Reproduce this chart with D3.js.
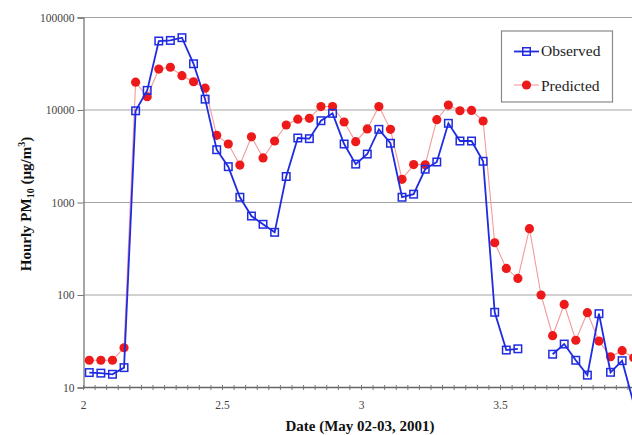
<!DOCTYPE html>
<html>
<head>
<meta charset="utf-8">
<script src="https://cdn.jsdelivr.net/npm/d3@7"></script>
<style>
    body { margin: 0; background: #fff; }
    svg text { font-family: "Liberation Serif", "Times New Roman", serif; }
</style>
</head>
<body>
<div id="chart"></div>
<script>
// Hourly samples, May 02-03 2001 (day value 2.0 = start of May 2)
const startDay = 2;
const hoursPerDay = 24;

const observed = [14.5, 14.3, 13.9, 16.4, 9800, 16300, 55700, 56500, 60500, 31600,
    13100, 3720, 2440, 1140, 714, 581, 476, 1910, 4980, 4900,
    7660, 9200, 4290, 2600, 3340, 6180, 4370, 1140, 1230, 2290,
    2740, 7180, 4620, 4620, 2790, 65, 25.4, 26.2, null, null,
    22.9, 29.5, 19.7, 13.6, 62.8, 14.6, 19.5, 6.7];

const predicted = [19.7, 19.7, 19.7, 26.9, 20000, 13900, 27700, 29000, 23500, 20200,
    17200, 5330, 4290, 2540, 5130, 3030, 4620, 6880, 7950, 8130,
    10900, 10900, 7420, 4540, 6240, 10900, 6180, 1780, 2570, 2560,
    7860, 11300, 9810, 9900, 7600, 367, 194, 151, 521, 100,
    36.3, 79, 32.4, 64.4, 31.8, 21.5, 25, 21];

const xTicks = [2, 2.5, 3, 3.5];
const yTicks = [10, 100, 1000, 10000, 100000];

const width = 632;
const height = 435;
const plot = { left: 83.5, top: 17.5, bottom: 387.5, right: 639.5 };
const serif = "'Liberation Serif', 'Times New Roman', serif";

const svg = d3.select("#chart")
    .append("svg")
    .attr("width", width)
    .attr("height", height);

const x = d3.scaleLinear().domain([2, 4]).range([plot.left, plot.right]);
const y = d3.scaleLog().domain([10, 100000]).range([plot.bottom, plot.top]);

const hourX = i => x(startDay + (i + 0.5) / hoursPerDay);

// Grid lines
svg.append("g")
    .selectAll("line")
    .data(yTicks.slice(1))
    .enter()
    .append("line")
    .attr("x1", plot.left)
    .attr("x2", width)
    .attr("y1", d => y(d))
    .attr("y2", d => y(d))
    .attr("stroke", "#a3a3a3")
    .attr("stroke-width", 1.2);

// Y axis
const yAxis = svg.append("g")
    .attr("transform", `translate(${plot.left},0)`)
    .call(d3.axisLeft(y).tickValues(yTicks).tickFormat(d3.format("d")).tickSize(6).tickPadding(3));
yAxis.attr("font-family", null);
yAxis.select(".domain").attr("stroke", "#777").attr("stroke-width", 1.3);
yAxis.selectAll(".tick line").attr("stroke", "#777");
yAxis.selectAll("text")
    .style("font-family", serif)
    .attr("font-size", "11.5px")
    .attr("fill", "#444");

// X axis, minor ticks every hour
const minorTicks = d3.range(0, 2 * hoursPerDay + 1).map(i => startDay + i / hoursPerDay);
const xAxis = svg.append("g")
    .attr("transform", `translate(0,${plot.bottom})`);
xAxis.append("line")
    .attr("x1", plot.left)
    .attr("x2", width)
    .attr("stroke", "#666")
    .attr("stroke-width", 1.3);
xAxis.selectAll(".minor")
    .data(minorTicks)
    .enter()
    .append("line")
    .attr("x1", d => x(d))
    .attr("x2", d => x(d))
    .attr("y1", -2.5)
    .attr("y2", 2.5)
    .attr("stroke", "#777");
xAxis.selectAll(".label")
    .data(xTicks)
    .enter()
    .append("text")
    .attr("x", d => x(d))
    .attr("y", 21)
    .attr("text-anchor", "middle")
    .style("font-family", serif)
    .attr("font-size", "11.5px")
    .attr("fill", "#444")
    .text(d => d);

// Predicted series: thin light line with red dots
const predLine = d3.line()
    .x((d, i) => hourX(i))
    .y(d => y(d));

svg.append("path")
    .datum(predicted)
    .attr("d", predLine)
    .attr("fill", "none")
    .attr("stroke", "#f29a9a")
    .attr("stroke-width", 1.1);

svg.selectAll(".pred")
    .data(predicted)
    .enter()
    .append("circle")
    .attr("cx", (d, i) => hourX(i))
    .attr("cy", d => y(d))
    .attr("r", 4.6)
    .attr("fill", "#ee1a1a");

// Observed series: blue line with open squares
const obsLine = d3.line()
    .defined(d => d !== null)
    .x((d, i) => hourX(i))
    .y(d => y(d));

svg.append("path")
    .datum(observed)
    .attr("d", obsLine)
    .attr("fill", "none")
    .attr("stroke", "#1f2be0")
    .attr("stroke-width", 1.8);

// markers below the axis minimum are not drawn
const sq = 7.5;
svg.selectAll(".obs")
    .data(observed.map((v, i) => ({ v, i })).filter(d => d.v !== null && d.v >= 10))
    .enter()
    .append("rect")
    .attr("x", d => hourX(d.i) - sq / 2)
    .attr("y", d => y(d.v) - sq / 2)
    .attr("width", sq)
    .attr("height", sq)
    .attr("fill", "none")
    .attr("stroke", "#1f2be0")
    .attr("stroke-width", 1.5);

// Legend
const legend = svg.append("g");
legend.append("rect")
    .attr("x", 501.5)
    .attr("y", 31)
    .attr("width", 111)
    .attr("height", 71)
    .attr("fill", "#fff")
    .attr("stroke", "#8a8a8a")
    .attr("stroke-width", 1.2);

legend.append("line")
    .attr("x1", 514).attr("x2", 539)
    .attr("y1", 51.5).attr("y2", 51.5)
    .attr("stroke", "#1f2be0").attr("stroke-width", 1.8);
legend.append("rect")
    .attr("x", 526.5 - sq / 2).attr("y", 51.5 - sq / 2)
    .attr("width", sq).attr("height", sq)
    .attr("fill", "none").attr("stroke", "#1f2be0").attr("stroke-width", 1.5);
legend.append("text")
    .attr("x", 541).attr("y", 56)
    .style("font-family", serif)
    .attr("font-size", "15.5px")
    .attr("fill", "#222")
    .text("Observed");

legend.append("line")
    .attr("x1", 514).attr("x2", 539)
    .attr("y1", 85).attr("y2", 85)
    .attr("stroke", "#f29a9a").attr("stroke-width", 1.1);
legend.append("circle")
    .attr("cx", 526.5).attr("cy", 85).attr("r", 4.6)
    .attr("fill", "#ee1a1a");
legend.append("text")
    .attr("x", 541).attr("y", 90.5)
    .style("font-family", serif)
    .attr("font-size", "15.5px")
    .attr("fill", "#222")
    .text("Predicted");

// Axis titles
svg.append("text")
    .attr("x", 360)
    .attr("y", 430.5)
    .attr("text-anchor", "middle")
    .style("font-family", serif)
    .attr("font-size", "15px")
    .attr("font-weight", "bold")
    .attr("fill", "#111")
    .text("Date (May 02-03, 2001)");

const yTitle = svg.append("text")
    .attr("transform", "translate(30.5,204) rotate(-90)")
    .attr("text-anchor", "middle")
    .style("font-family", serif)
    .attr("font-size", "15px")
    .attr("font-weight", "bold")
    .attr("fill", "#111");
yTitle.append("tspan").text("Hourly PM");
yTitle.append("tspan").attr("font-size", "10px").attr("dy", 3).text("10");
yTitle.append("tspan").attr("dy", -3).text(" (\u00b5g/m");
yTitle.append("tspan").attr("font-size", "10px").attr("dy", -6).text("3");
yTitle.append("tspan").attr("dy", 6).text(")");
</script>
</body>
</html>
